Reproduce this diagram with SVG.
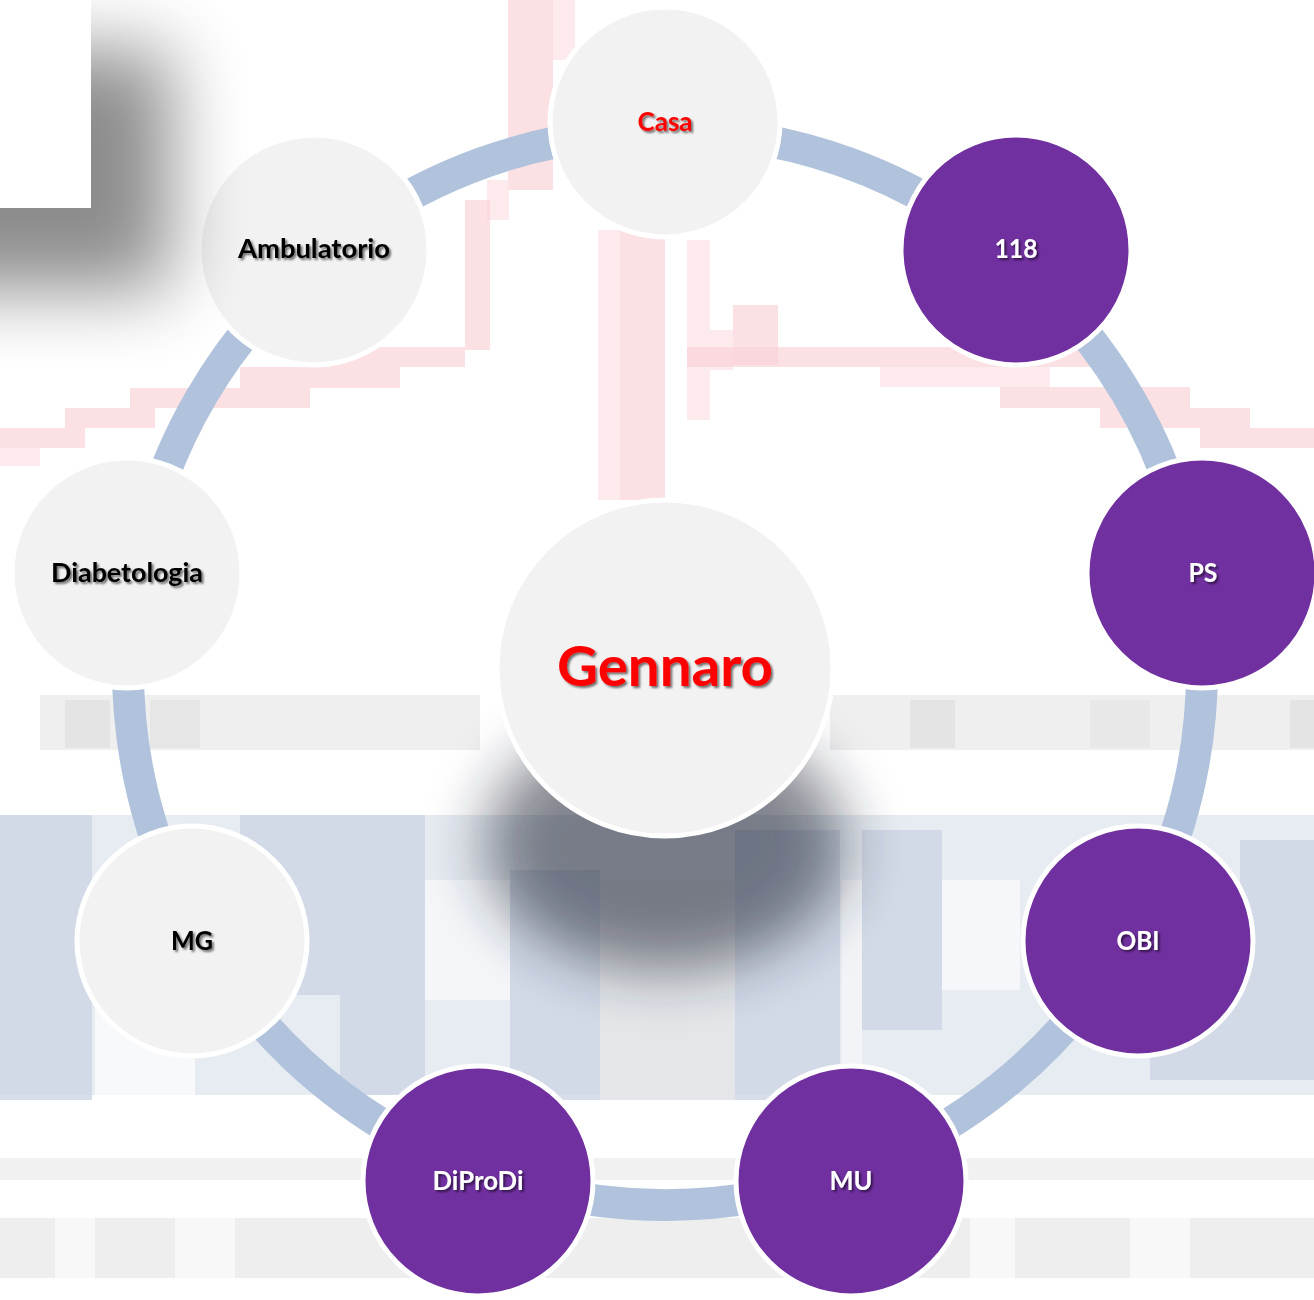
<svg xmlns="http://www.w3.org/2000/svg" width="1314" height="1300" viewBox="0 0 1314 1300">
<style>
.pk{fill:#f9d3d9;opacity:0.7}
.pk2{fill:#fbe3e6;opacity:0.75}
.bg1{fill:#cdd6e4;opacity:0.8}
.bg2{fill:#dfe5ee;opacity:0.75}
.gr{fill:#ededed;opacity:0.9}
.ring{fill:none;stroke:#b0c2dc;stroke-width:32}
.light{fill:#f2f2f2;stroke:#ffffff;stroke-width:5}
.purple{fill:#7030a0;stroke:#ffffff;stroke-width:5}
.lbl{font-family:Lato,"Liberation Sans",sans-serif;font-weight:bold;font-size:27px;text-anchor:middle;filter:url(#ts)}
.dark{fill:#000000}
.white{fill:#ffffff}
.red{fill:#ff0000}
</style>
<defs>
<filter id="ts" x="-20%" y="-40%" width="140%" height="180%">
<feDropShadow dx="2" dy="2" stdDeviation="1.3" flood-color="#000000" flood-opacity="0.55"/>
</filter>
<filter id="blur38" x="-100%" y="-100%" width="300%" height="300%">
<feGaussianBlur stdDeviation="38"/>
</filter>
<filter id="blur30" x="-80%" y="-80%" width="260%" height="260%">
<feGaussianBlur stdDeviation="30"/>
</filter>
</defs>

<rect x="0" y="0" width="1314" height="1300" fill="#ffffff"/>

<g id="background">
<rect class="pk" x="508" y="0" width="45" height="190"/>
<rect class="pk2" x="553" y="0" width="22" height="60"/>
<rect class="pk2" x="487" y="180" width="22" height="40"/>
<rect class="pk" x="465" y="200" width="25" height="150"/>
<rect class="pk2" x="598" y="230" width="22" height="270"/>
<rect class="pk" x="620" y="230" width="45" height="270"/>
<rect class="pk2" x="687" y="240" width="23" height="180"/>
<rect class="pk" x="733" y="305" width="45" height="60"/>
<rect class="pk2" x="710" y="330" width="23" height="40"/>
<rect class="pk" x="0" y="428" width="85" height="20"/>
<rect class="pk2" x="0" y="448" width="40" height="18"/>
<rect class="pk" x="65" y="408" width="90" height="20"/>
<rect class="pk" x="130" y="388" width="180" height="20"/>
<rect class="pk" x="240" y="367" width="160" height="21"/>
<rect class="pk" x="330" y="347" width="135" height="20"/>
<rect class="pk" x="687" y="347" width="413" height="20"/>
<rect class="pk2" x="880" y="367" width="170" height="20"/>
<rect class="pk" x="1000" y="387" width="190" height="21"/>
<rect class="pk" x="1100" y="408" width="150" height="20"/>
<rect class="pk" x="1200" y="428" width="114" height="20"/>
<rect class="gr" x="40" y="695" width="440" height="55"/>
<rect class="gr" x="830" y="695" width="484" height="55"/>
<rect fill="#e4e4e4" x="65" y="700" width="45" height="48"/>
<rect fill="#e6e6e6" x="150" y="700" width="50" height="48"/>
<rect fill="#e4e4e4" x="910" y="700" width="45" height="48"/>
<rect fill="#e8e8e8" x="1090" y="700" width="60" height="48"/>
<rect fill="#e4e4e4" x="1290" y="700" width="24" height="48"/>
<rect class="bg2" x="0" y="815" width="1314" height="280"/>
<rect class="bg1" x="0" y="815" width="92" height="285"/>
<rect class="bg1" x="240" y="815" width="100" height="180"/>
<rect class="bg1" x="340" y="815" width="85" height="280"/>
<rect fill="#f4f6fa" x="425" y="880" width="85" height="120"/>
<rect class="bg1" x="510" y="870" width="90" height="230"/>
<rect fill="#e4e6ea" x="600" y="880" width="135" height="220"/>
<rect class="bg1" x="735" y="830" width="105" height="270"/>
<rect fill="#f2f4f8" x="842" y="880" width="20" height="215"/>
<rect class="bg1" x="862" y="830" width="80" height="200"/>
<rect fill="#f6f7fa" x="942" y="880" width="78" height="110"/>
<rect class="bg1" x="1150" y="990" width="164" height="90"/>
<rect class="bg1" x="1240" y="840" width="74" height="150"/>
<rect fill="#f8f9fb" x="95" y="1000" width="100" height="95"/>
<rect fill="#f1f1f1" x="0" y="1158" width="1314" height="22"/>
<rect fill="#eeeeee" x="0" y="1218" width="1314" height="60"/>
<rect fill="#f8f8f8" x="55" y="1218" width="40" height="60"/>
<rect fill="#f8f8f8" x="175" y="1218" width="60" height="60"/>
<rect fill="#f8f8f8" x="970" y="1218" width="45" height="60"/>
<rect fill="#f8f8f8" x="1130" y="1218" width="60" height="60"/>
<ellipse cx="665" cy="845" rx="180" ry="125" fill="#1e2430" opacity="0.55" filter="url(#blur30)"/>
</g>

<g id="connectors">
<path class="ring" d="M721.1,134 A537,537 0 0 1 965.3,222.8"/>
<path class="ring" d="M1051.3,295 A537,537 0 0 1 1181.2,520"/>
<path class="ring" d="M1200.7,630.5 A537,537 0 0 1 1155.6,886.4"/>
<path class="ring" d="M1099.4,983.6 A537,537 0 0 1 900.4,1150.6"/>
<path class="ring" d="M794.9,1189.1 A537,537 0 0 1 535.1,1189.1"/>
<path class="ring" d="M429.6,1150.6 A537,537 0 0 1 230.6,983.6"/>
<path class="ring" d="M174.4,886.4 A537,537 0 0 1 129.3,630.5"/>
<path class="ring" d="M148.8,520 A537,537 0 0 1 278.7,295"/>
<path class="ring" d="M364.7,222.8 A537,537 0 0 1 608.9,134"/>
</g>

<g id="node-gennaro">
<circle class="light" cx="665" cy="668" r="168"/>
<text x="665" y="686" font-family="Lato,'Liberation Sans',sans-serif" font-weight="bold" font-size="56" text-anchor="middle" fill="#ff0000" filter="url(#ts)" textLength="216" lengthAdjust="spacingAndGlyphs">Gennaro</text>
</g>
<g id="node-casa">
<circle class="light" cx="665" cy="122" r="115"/>
<text class="lbl red" x="665" y="131" textLength="55" lengthAdjust="spacingAndGlyphs">Casa</text>
</g>
<g id="node-118">
<circle class="purple" cx="1016" cy="250" r="115"/>
<text class="lbl white" x="1016" y="258" textLength="43" lengthAdjust="spacingAndGlyphs">118</text>
</g>
<g id="node-ps">
<circle class="purple" cx="1202" cy="573" r="115"/>
<text class="lbl white" x="1203" y="582" textLength="29" lengthAdjust="spacingAndGlyphs">PS</text>
</g>
<g id="node-obi">
<circle class="purple" cx="1138" cy="941" r="115"/>
<text class="lbl white" x="1138" y="950" textLength="43" lengthAdjust="spacingAndGlyphs">OBI</text>
</g>
<g id="node-mu">
<circle class="purple" cx="851" cy="1181" r="115"/>
<text class="lbl white" x="851" y="1190" textLength="43" lengthAdjust="spacingAndGlyphs">MU</text>
</g>
<g id="node-diprodi">
<circle class="purple" cx="478" cy="1181" r="115"/>
<text class="lbl white" x="478" y="1190" textLength="91" lengthAdjust="spacingAndGlyphs">DiProDi</text>
</g>
<g id="node-mg">
<circle class="light" cx="192" cy="941" r="115"/>
<text class="lbl dark" x="192" y="950" textLength="42" lengthAdjust="spacingAndGlyphs">MG</text>
</g>
<g id="node-diabetologia">
<circle class="light" cx="127" cy="573" r="115"/>
<text class="lbl dark" x="127" y="582" textLength="152" lengthAdjust="spacingAndGlyphs">Diabetologia</text>
</g>
<g id="node-ambulatorio">
<circle class="light" cx="314" cy="250" r="115"/>
<text class="lbl dark" x="314" y="258" textLength="152" lengthAdjust="spacingAndGlyphs">Ambulatorio</text>
</g>

<g id="corner-shape">
<rect x="-110" y="50" width="280" height="240" fill="#000000" opacity="0.45" filter="url(#blur38)"/>
<rect x="0" y="0" width="91" height="208" fill="#ffffff"/>
</g>
</svg>
